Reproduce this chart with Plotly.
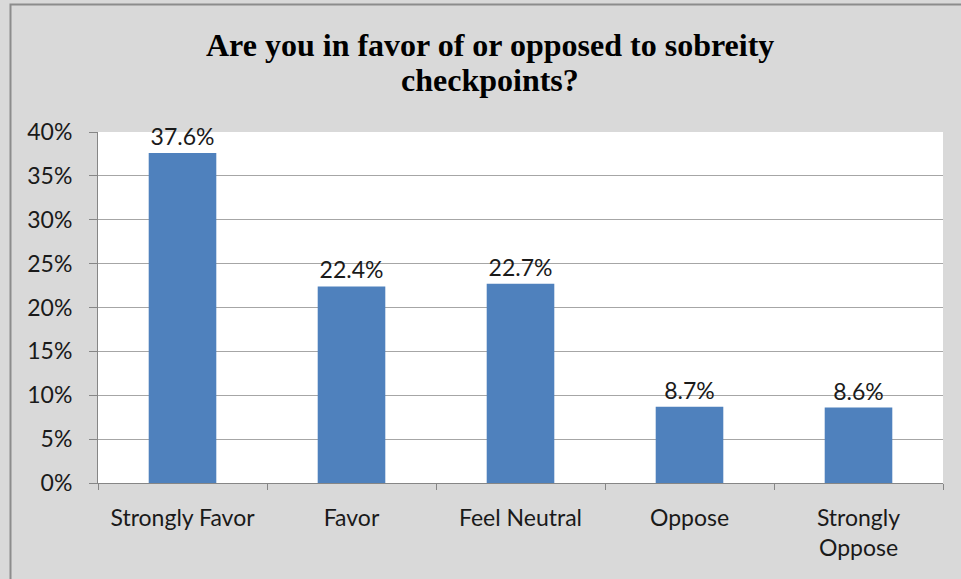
import plotly.graph_objects as go

categories = ["Strongly Favor", "Favor", "Feel Neutral", "Oppose", "Strongly<br>Oppose"]
values = [0.376, 0.224, 0.227, 0.087, 0.086]
labels = ["37.6%", "22.4%", "22.7%", "8.7%", "8.6%"]
title_lines = ["Are you in favor of or opposed to sobreity", "checkpoints?"]

W, H = 961, 579
L, R, T, B = 98, 18, 132, 96
pw, ph = W - L - R, H - T - B

FONT = "Lato, Carlito, sans-serif"

fig = go.Figure(go.Bar(
    x=categories, y=values, text=labels, textposition="outside",
    textfont=dict(family=FONT, size=23, color="#1a1a1a"),
    marker=dict(color="#4f81bd", line=dict(width=0)),
    cliponaxis=False, width=0.4,
))

def px2paper_x(px):
    return (px - L) / pw

def px2paper_y(py):
    return (H - B - py) / ph

annotations = []
for line, ypx in zip(title_lines, [45, 80]):
    annotations.append(dict(
        text="<b>" + line + "</b>", xref="paper", yref="paper",
        x=px2paper_x(490), y=px2paper_y(ypx), xanchor="center", yanchor="middle",
        showarrow=False,
        font=dict(family="Liberation Serif, Times New Roman, serif", size=32, color="#000000"),
    ))

fig.update_layout(
    width=W, height=H,
    margin=dict(l=L, r=R, t=T, b=B),
    paper_bgcolor="#d9d9d9", plot_bgcolor="#ffffff",
    showlegend=False,
    annotations=annotations,
    xaxis=dict(
        showline=True, linecolor="#868686", linewidth=1,
        ticks="outside", tickson="boundaries", ticklen=6, tickcolor="#868686",
        tickfont=dict(family=FONT, size=23, color="#1a1a1a"),
        ticklabelstandoff=14,
        showgrid=False,
    ),
    yaxis=dict(
        range=[0, 0.40], dtick=0.05, tickformat=".0%",
        showline=True, linecolor="#868686", linewidth=1,
        ticks="outside", ticklen=8, tickcolor="#868686",
        tickfont=dict(family=FONT, size=23, color="#1a1a1a"),
        ticklabelstandoff=12,
        showgrid=True, gridcolor="#a6a6a6", gridwidth=1,
        zeroline=False,
    ),
    shapes=[dict(
        type="rect", xref="paper", yref="paper",
        x0=px2paper_x(10.5), x1=px2paper_x(1000), y0=px2paper_y(620), y1=px2paper_y(4.5),
        line=dict(color="#8c8c8c", width=2), layer="below",
    )],
)

fig.write_html("out.html", config={"displayModeBar": False},
               post_script="document.body.style.margin='0px';")
